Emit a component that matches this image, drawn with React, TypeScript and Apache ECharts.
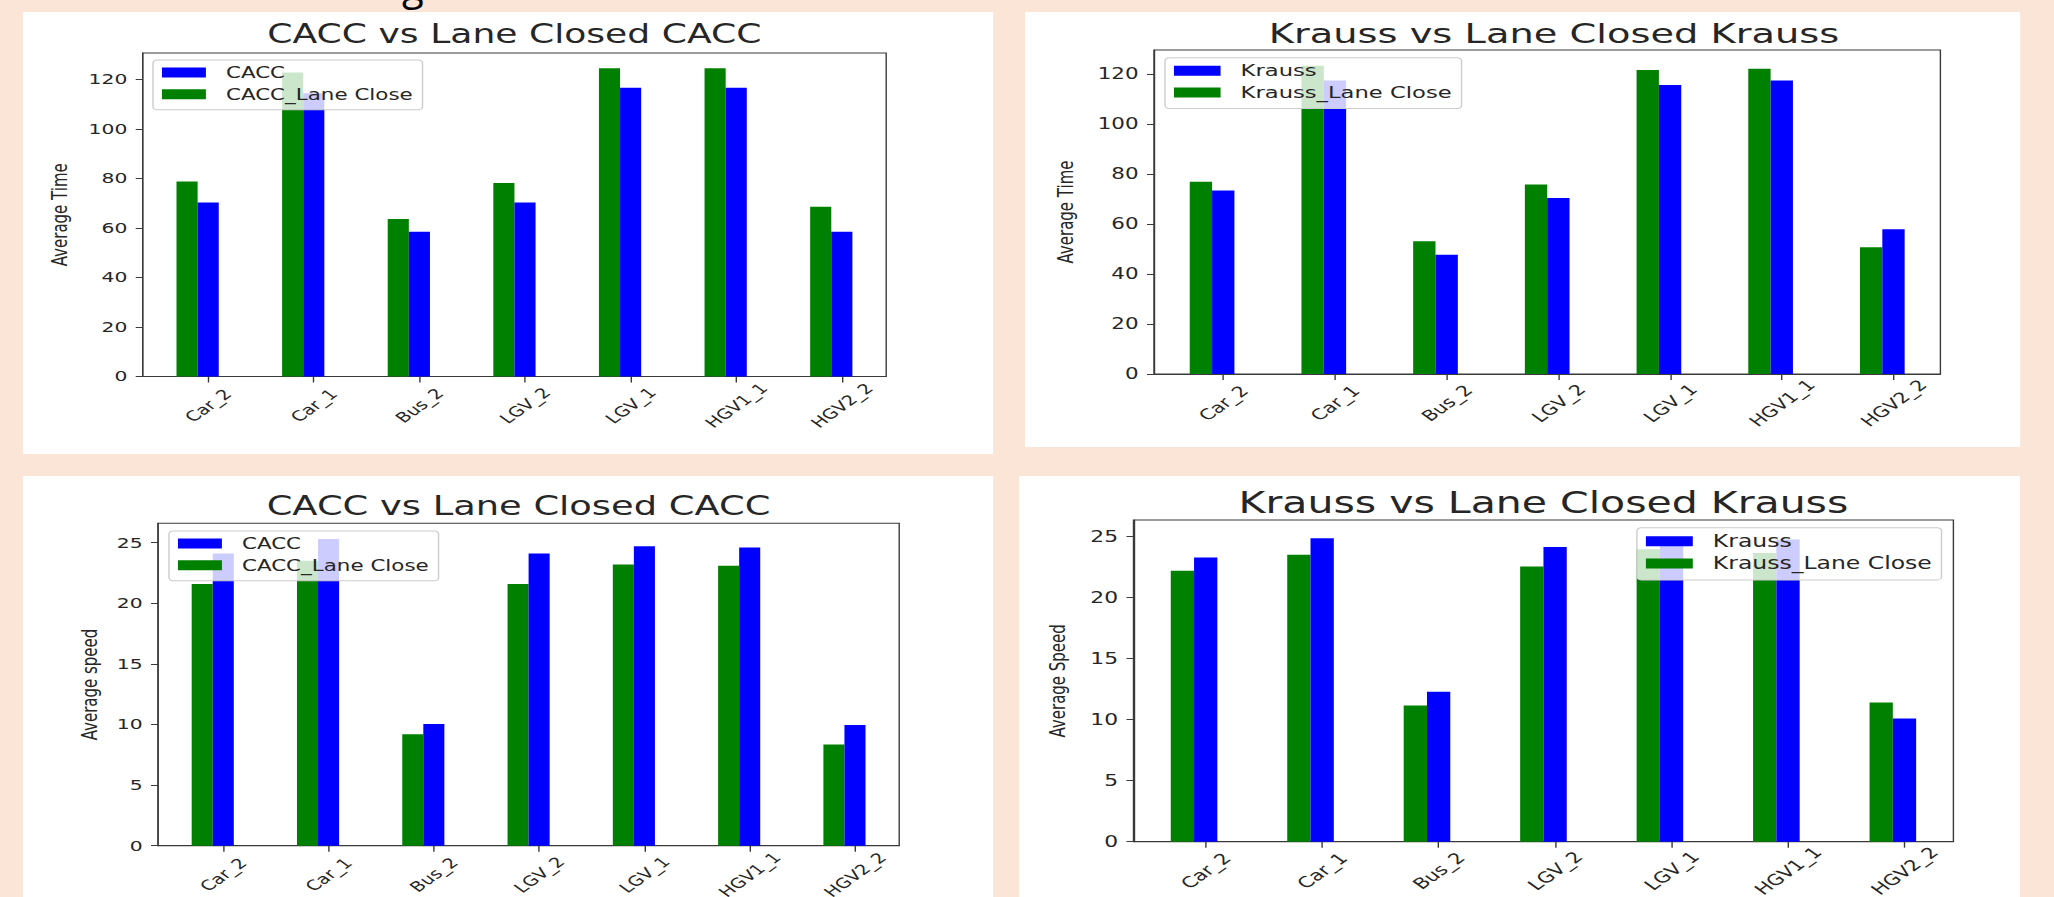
import React, { useEffect, useRef } from 'react';
import * as echarts from 'echarts';

const categories = ['Car_2', 'Car_1', 'Bus_2', 'LGV_2', 'LGV_1', 'HGV1_1', 'HGV2_2'];

const timeCacc = [70.2, 114.4, 58.4, 70.2, 116.6, 116.6, 58.4];
const timeCaccLane = [78.7, 122.7, 63.6, 78.1, 124.4, 124.4, 68.5];
const timeKrauss = [73.3, 117.3, 47.7, 70.3, 115.5, 117.3, 57.9];
const timeKraussLane = [76.8, 123.2, 53.1, 75.7, 121.5, 122.0, 50.7];

const speedCacc = [24.1, 25.3, 10.05, 24.1, 24.7, 24.6, 9.95];
const speedCaccLane = [21.6, 23.5, 9.2, 21.6, 23.2, 23.1, 8.35];
const speedKrauss = [23.24, 24.8, 12.25, 24.09, 24.4, 24.7, 10.07];
const speedKraussLane = [22.15, 23.46, 11.13, 22.5, 23.9, 23.6, 11.37];

const timeTicks = [0, 20, 40, 60, 80, 100, 120];
const speedTicks = [0, 5, 10, 15, 20, 25];

const S = 1.4; // horizontal stretch of the original figure
const FONT = 'DejaVu Sans';
const BLUE = '#0000ff';
const GREEN = '#008000';
const INK = '#262626';
const SPINE = '#3a3a3a';

type Cfg = {
  x0: number; y0: number; w: number; h: number;
  pl: number; pr: number; pt: number; pb: number;
  title: string; titleY: number; titleSize: number; titleDx: number;
  tickSize: number; legSize: number; swatchW: number;
  yName: string; yNameX: number;
  ymax: number; ticks: number[];
  blueName: string; greenName: string;
  blue: number[]; green: number[];
  legLeft?: number; legRight?: number; legTop: number;
};

const panels: Cfg[] = [
  {
    x0: 23, y0: 12, w: 970, h: 442, pl: 142.7, pr: 886, pt: 53, pb: 376.5,
    title: 'CACC vs Lane Closed CACC', titleY: 34, titleSize: 25.8, titleDx: 0,
    tickSize: 14.5, legSize: 15.3, swatchW: 31.4,
    yName: 'Average Time', yNameX: 60.6, ymax: 130.6, ticks: timeTicks,
    blueName: 'CACC', greenName: 'CACC_Lane Close', blue: timeCacc, green: timeCaccLane,
    legLeft: 153, legTop: 60,
  },
  {
    x0: 1025, y0: 12, w: 995, h: 435, pl: 1154, pr: 1940, pt: 50, pb: 374,
    title: 'Krauss vs Lane Closed Krauss', titleY: 33.3, titleSize: 27.4, titleDx: 7,
    tickSize: 15.3, legSize: 16.2, swatchW: 33.3,
    yName: 'Average Time', yNameX: 1066, ymax: 129.5, ticks: timeTicks,
    blueName: 'Krauss', greenName: 'Krauss_Lane Close', blue: timeKrauss, green: timeKraussLane,
    legLeft: 1165, legTop: 57.7,
  },
  {
    x0: 23, y0: 476, w: 970, h: 421, pl: 158, pr: 899, pt: 523.3, pb: 845.7,
    title: 'CACC vs Lane Closed CACC', titleY: 505.8, titleSize: 26.3, titleDx: -10,
    tickSize: 14.5, legSize: 15.3, swatchW: 31.4,
    yName: 'Average speed', yNameX: 90.6, ymax: 26.6, ticks: speedTicks,
    blueName: 'CACC', greenName: 'CACC_Lane Close', blue: speedCacc, green: speedCaccLane,
    legLeft: 169, legTop: 531,
  },
  {
    x0: 1019, y0: 476, w: 1001, h: 421, pl: 1133.5, pr: 1953.4, pt: 520, pb: 841.7,
    title: 'Krauss vs Lane Closed Krauss', titleY: 502.5, titleSize: 29.3, titleDx: 0,
    tickSize: 15.6, legSize: 16.8, swatchW: 33.5,
    yName: 'Average Speed', yNameX: 1058, ymax: 26.3, ticks: speedTicks,
    blueName: 'Krauss', greenName: 'Krauss_Lane Close', blue: speedKrauss, green: speedKraussLane,
    legRight: 1941.5, legTop: 527.7,
  },
];

const BAR_W = 0.2;
const GREEN_OFF = -0.2;
const BLUE_OFF = 0;

function Panel({ cfg }: { cfg: Cfg }) {
  const ref = useRef<HTMLDivElement>(null);
  useEffect(() => {
    const chart = echarts.init(ref.current!, undefined, { renderer: 'svg' });
    const W = cfg.w / S;
    const gl = (cfg.pl - cfg.x0) / S;
    const gr = (cfg.x0 + cfg.w - cfg.pr) / S;
    const gt = cfg.pt - cfg.y0;
    const gb = cfg.y0 + cfg.h - cfg.pb;
    const tickIdx = categories.map((_, i) => i);

    const bar = (color: string) => (params: any, api: any) => {
      const x = api.value(0);
      const v = api.value(1);
      const p0 = api.coord([x - BAR_W / 2, 0]);
      const p1 = api.coord([x + BAR_W / 2, v]);
      return {
        type: 'rect',
        shape: { x: p0[0], y: p1[1], width: p1[0] - p0[0], height: p0[1] - p1[1] },
        style: { fill: color },
      };
    };

    const legend: any = {
      orient: 'vertical',
      top: cfg.legTop - cfg.y0,
      data: [
        { name: cfg.blueName, icon: 'rect' },
        { name: cfg.greenName, icon: 'rect' },
      ],
      selectedMode: false,
      itemWidth: cfg.swatchW,
      itemHeight: 10,
      itemGap: 22 - cfg.legSize,
      padding: [5, 7, 8, 6.4],
      backgroundColor: 'rgba(255,255,255,0.8)',
      borderColor: '#cccccc',
      borderWidth: 1,
      borderRadius: 3,
      textStyle: { fontFamily: FONT, fontSize: cfg.legSize, color: INK, padding: [0, 0, 0, 9.3] },
    };
    if (cfg.legLeft !== undefined) legend.left = (cfg.legLeft - cfg.x0) / S;
    if (cfg.legRight !== undefined) legend.right = (cfg.x0 + cfg.w - cfg.legRight) / S;

    chart.setOption({
      animation: false,
      backgroundColor: '#ffffff',
      grid: {
        left: gl, right: gr, top: gt, bottom: gb,
        containLabel: false,
        outerBoundsMode: 'none',
        show: true, borderColor: SPINE, borderWidth: 1, backgroundColor: '#ffffff',
      },
      graphic: [
        {
          type: 'text',
          x: gl + (W - gl - gr) / 2 + cfg.titleDx / S,
          y: cfg.titleY - cfg.y0,
          style: {
            text: cfg.title, fontSize: cfg.titleSize, fontFamily: FONT, fill: INK,
            align: 'center', verticalAlign: 'middle',
          },
        },
      ],
      legend,
      xAxis: {
        type: 'value',
        min: -0.62,
        max: 6.42,
        splitLine: { show: false },
        axisLine: { show: true, onZero: false, lineStyle: { color: SPINE, width: 1 } },
        axisTick: { show: true, customValues: tickIdx, length: 6, lineStyle: { color: SPINE } },
        axisLabel: {
          customValues: tickIdx,
          formatter: (v: number) => categories[Math.round(v)] ?? '',
          rotate: 45,
          align: 'center',
          verticalAlign: 'middle',
          margin: 29,
          fontFamily: FONT,
          fontSize: cfg.tickSize - 0.5,
          color: INK,
        },
      },
      yAxis: {
        type: 'value',
        min: 0,
        max: cfg.ymax,
        name: cfg.yName,
        nameLocation: 'middle',
        nameRotate: 90,
        nameGap: (cfg.pl - cfg.yNameX) / S - 7,
        nameTextStyle: { fontFamily: FONT, fontSize: 15, color: INK },
        splitLine: { show: false },
        axisLine: { show: true, onZero: false, lineStyle: { color: SPINE, width: 1 } },
        axisTick: { show: true, customValues: cfg.ticks, length: 5, lineStyle: { color: SPINE } },
        axisLabel: {
          customValues: cfg.ticks,
          margin: 11,
          fontFamily: FONT,
          fontSize: cfg.tickSize,
          color: INK,
        },
      },
      series: [
        {
          type: 'custom',
          name: cfg.greenName,
          itemStyle: { color: GREEN },
          encode: { x: 0, y: 1 },
          renderItem: bar(GREEN),
          data: cfg.green.map((v, i) => [i + GREEN_OFF, v]),
        },
        {
          type: 'custom',
          name: cfg.blueName,
          itemStyle: { color: BLUE },
          encode: { x: 0, y: 1 },
          renderItem: bar(BLUE),
          data: cfg.blue.map((v, i) => [i + BLUE_OFF, v]),
        },
      ],
    });
    return () => chart.dispose();
  }, [cfg]);

  return (
    <div
      ref={ref}
      style={{
        position: 'absolute',
        left: cfg.x0,
        top: cfg.y0,
        width: cfg.w / S,
        height: cfg.h,
        transform: `scaleX(${S})`,
        transformOrigin: '0 0',
      }}
    />
  );
}

export default function App() {
  return (
    <div
      style={{
        position: 'absolute',
        left: 0,
        top: 0,
        width: 2054,
        height: 897,
        background: '#fbe5d6',
        overflow: 'hidden',
      }}
    >
      <div
        style={{
          position: 'absolute',
          left: 402,
          top: -35,
          fontFamily: 'Open Sans',
          fontSize: 40,
          lineHeight: '40px',
          color: '#000',
        }}
      >
        g
      </div>
      {panels.map((p, i) => (
        <Panel key={i} cfg={p} />
      ))}
    </div>
  );
}
